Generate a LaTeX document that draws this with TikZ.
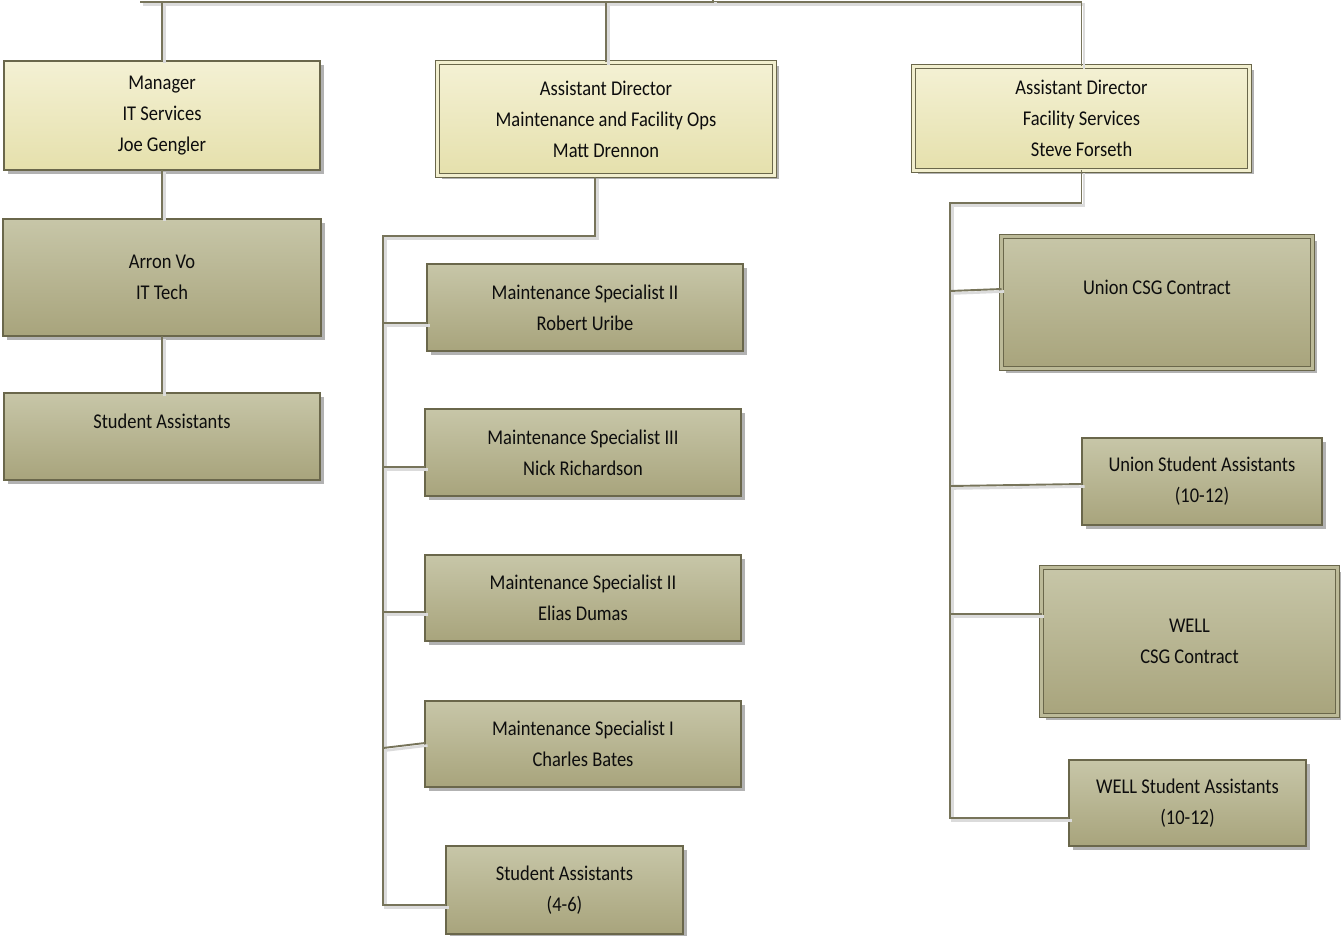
\documentclass[tikz,border=0pt]{standalone}
\usepackage{fontspec}
\setmainfont{Carlito}[FakeStretch=0.88]
\usetikzlibrary{shadows}
\definecolor{ytop}{HTML}{F4F1D4}
\definecolor{ybot}{HTML}{E5E0AC}
\definecolor{ygap}{HTML}{F2EFCF}
\definecolor{otop}{HTML}{C7C6A8}
\definecolor{obot}{HTML}{A8A47C}
\definecolor{ogap}{HTML}{BCBA98}
\definecolor{bord}{HTML}{6A674B}
\definecolor{conn}{HTML}{77745A}
\definecolor{txt}{HTML}{0D0D0D}
\tikzset{
  box/.style={rectangle, inner sep=0pt, outer sep=0pt, align=center,
    text=txt, font=\fontsize{21}{31}\selectfont,
    draw=bord, line width=1.8pt,
    drop shadow={shadow xshift=4pt, shadow yshift=-4pt, fill=black, opacity=0.3}},
  ybox/.style={box, top color=ytop, bottom color=ybot},
  obox/.style={box, top color=otop, bottom color=obot},
  ydbl/.style={ybox, double=ygap, double distance=2.6pt, line width=1.5pt},
  odbl/.style={obox, double=ogap, double distance=2.6pt, line width=1.5pt},
  link/.style={draw=conn, line width=1.9pt,
    preaction={draw=black!14, line width=2.6pt, transform canvas={shift={(2.5pt,-2.5pt)}}}}
}
\begin{document}
\begin{tikzpicture}[x=1pt,y=-1pt]
\useasboundingbox (0,0) rectangle (1341,936);
% top managers
\node[ybox, minimum width=316, minimum height=109] (mgr) at (162,115.5) {Manager\\IT Services\\Joe Gengler};
\node[ydbl, minimum width=337, minimum height=113] (ad1) at (606,119) {Assistant Director\\Maintenance and Facility Ops\\Matt Drennon};
\node[ydbl, minimum width=336, minimum height=104] (ad2) at (1081.5,118.5) {Assistant Director\\Facility Services\\Steve Forseth};
% IT column
\node[obox, minimum width=318, minimum height=117] (it) at (162,277.5) {Arron Vo\\IT Tech};
\node[obox, minimum width=316, minimum height=87] (sa1) at (162,436.5) {Student Assistants\\\mbox{}};
% maintenance column
\node[obox, minimum width=316, minimum height=87] (ms1) at (585,307.5) {Maintenance Specialist II\\Robert Uribe};
\node[obox, minimum width=316, minimum height=87] (ms2) at (583,452.5) {Maintenance Specialist III\\Nick Richardson};
\node[obox, minimum width=316, minimum height=86] (ms3) at (583,598) {Maintenance Specialist II\\Elias Dumas};
\node[obox, minimum width=316, minimum height=86] (ms4) at (583,744) {Maintenance Specialist I\\Charles Bates};
\node[obox, minimum width=237, minimum height=88] (sa2) at (564.5,890) {Student Assistants\\(4-6)};
% facility column
\node[odbl, minimum width=311, minimum height=132] (uc) at (1157,302.5) {Union CSG Contract\\\mbox{}};
\node[obox, minimum width=240, minimum height=87] (us) at (1202,481.5) {Union Student Assistants\\(10-12)};
\node[odbl, minimum width=296, minimum height=148] (wc) at (1189.5,641.5) {WELL\\CSG Contract};
\node[obox, minimum width=237, minimum height=86] (ws) at (1187.5,803) {WELL Student Assistants\\(10-12)};
% coordinates
\coordinate (tl) at (140,2);
\coordinate (tm) at (713,2);
\coordinate (ttop) at (713,0);
\coordinate (ad1d) at (595,177);
\coordinate (b1) at (383,236);
\coordinate (b1e) at (383,905);
\coordinate (b2) at (950,203);
\coordinate (b2e) at (950,818);
% top bus
\draw[link] (tl) -| (ad2.north);
\draw[link] (tm) -- (ttop);
\draw[link] (mgr.north) -- (mgr.north |- tl);
\draw[link] (ad1.north) -- (ad1.north |- tl);
% IT chain
\draw[link] (mgr.south) -- (it.north);
\draw[link] (it.south) -- (sa1.north);
% maintenance bus
\draw[link] (ad1d) |- (b1) -- (b1e) -- (b1e -| sa2.west);
\draw[link] (b1 |- 0,323) -- (ms1.west |- 0,323);
\draw[link] (b1 |- 0,467) -- (ms2.west |- 0,467);
\draw[link] (b1 |- 0,612) -- (ms3.west |- 0,612);
\draw[link] (b1 |- 0,748) -- (ms4.west |- 0,743);
% facility bus
\draw[link] (ad2.south) |- (b2) -- (b2e) -- (b2e -| ws.west);
\draw[link] (b2 |- 0,291) -- (uc.west |- 0,289);
\draw[link] (b2 |- 0,486) -- (us.west |- 0,484);
\draw[link] (b2 |- 0,614) -- (wc.west |- 0,614);
\end{tikzpicture}
\end{document}
